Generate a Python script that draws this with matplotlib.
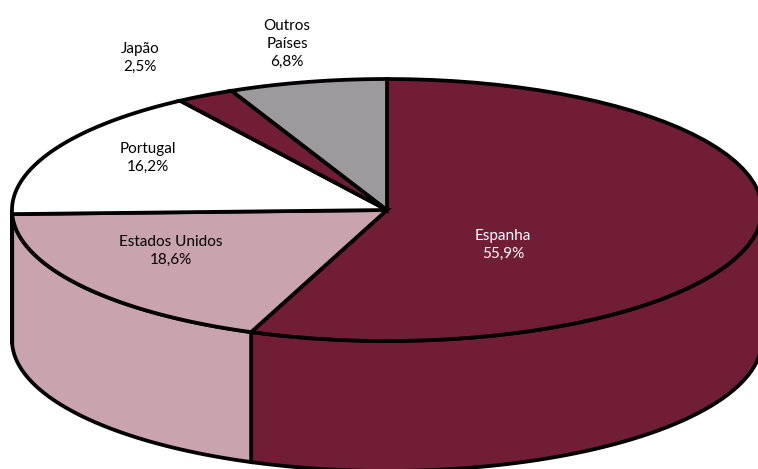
import matplotlib.pyplot as plt
import numpy as np
from matplotlib.patches import Polygon

# Destinos das exportações (% do total)
paises = ['Espanha', 'Estados Unidos', 'Portugal', 'Japão', 'Outros\nPaíses']
quotas = [55.9, 18.6, 16.2, 2.5, 6.8]
cores = ['#711d35', '#c9a3ad', '#ffffff', '#711d35', '#9c9a9c']
cor_texto = ['white', 'black', 'black', 'black', 'black']

# posição dos rótulos (px) e geometria da pizza 3D
pos_rotulos = [(503, 245), (171, 251), (148, 158), (140, 58), (287, 44)]
cx, cy = 387, 210      # centro da face superior
a, b = 375, 131        # semi-eixos da elipse
h = 130                # espessura

def arco(t0, t1, dy=0, n=60):
    t = np.radians(np.linspace(t0, t1, n))
    return np.column_stack([cx + a * np.cos(t), cy - b * np.sin(t) + dy])

fig = plt.figure(figsize=(7.58, 4.69), dpi=100)
ax = fig.add_axes([0, 0, 1, 1])
ax.set_xlim(0, 758)
ax.set_ylim(469, 0)
ax.axis('off')

# ângulos das fatias, começando às 12h e seguindo no sentido horário
fim = 90 - 3.6 * np.cumsum(quotas)
ini = np.concatenate([[90], fim[:-1]])

estilo = dict(edgecolor='black', linewidth=2.7, joinstyle='miter')

# paredes laterais (só a metade da frente, entre -180 e 0 graus)
for t0, t1, cor in zip(ini, fim, cores):
    s0, s1 = min(t0, 0), max(t1, -180)
    if s0 <= s1:
        continue
    topo = arco(s0, s1)
    base = arco(s1, s0, dy=h)
    ax.add_patch(Polygon(np.vstack([topo, base]), closed=True,
                         facecolor=cor, zorder=1, **estilo))

# face superior
for t0, t1, cor in zip(ini, fim, cores):
    pts = np.vstack([[cx, cy], arco(t0, t1)])
    ax.add_patch(Polygon(pts, closed=True, facecolor=cor, zorder=2, **estilo))

# rótulos
for nome, q, (x, y), ct in zip(paises, quotas, pos_rotulos, cor_texto):
    txt = f'{nome}\n{q:.1f}%'.replace('.', ',')
    ax.text(x, y, txt, ha='center', va='center', color=ct, fontsize=11,
            family='Lato', linespacing=1.35, zorder=3)

fig.savefig('out.png', dpi=100)
